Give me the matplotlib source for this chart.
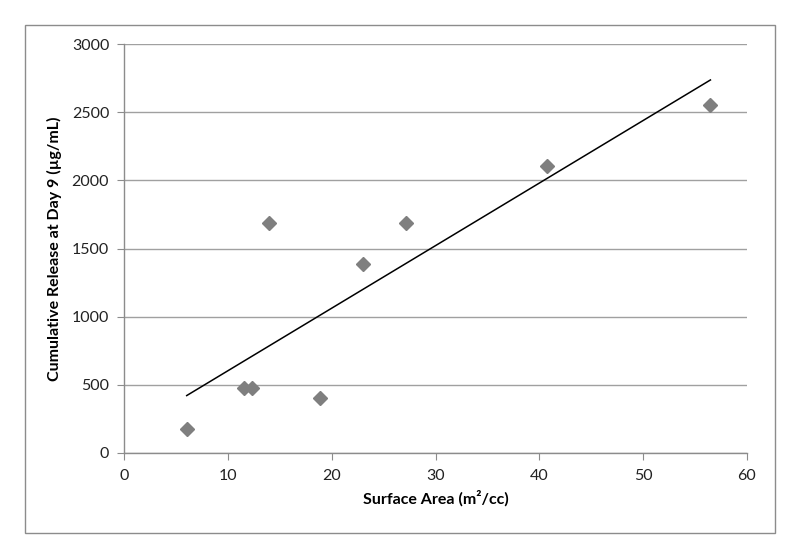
import numpy as np
import matplotlib.pyplot as plt
from matplotlib.patches import Rectangle

# values
surface_area = [6.0, 11.5, 12.3, 13.9, 18.9, 23.0, 27.1, 40.7, 56.5]
release_day9 = [172, 473, 473, 1685, 402, 1384, 1685, 2106, 2554]

x_ticks = [0, 10, 20, 30, 40, 50, 60]
y_ticks = [0, 500, 1000, 1500, 2000, 2500, 3000]

plt.rcParams['font.family'] = ['Lato', 'DejaVu Sans']

fig = plt.figure(figsize=(8, 5.59), dpi=100)
ax = fig.add_axes([0.1556, 0.1902, 0.7778, 0.7305])

# outer chart border
fig.patches.append(Rectangle((25 / 800, 1 - 533 / 559), 750 / 800, 508 / 559,
                             transform=fig.transFigure, fill=False,
                             edgecolor='#8c8c8c', linewidth=1.0))

ax.plot(surface_area, release_day9, linestyle='none', marker='D',
        markersize=6.8, color='#7f7f7f', zorder=3)

# linear trend line over the data range
slope, intercept = np.polyfit(surface_area, release_day9, 1)
xs = np.array([min(surface_area), max(surface_area)])
ax.plot(xs, slope * xs + intercept, color='black', linewidth=1.1, zorder=2)

ax.set_xlim(0, 60)
ax.set_ylim(0, 3000)
ax.set_xticks(x_ticks)
ax.set_yticks(y_ticks)
ax.yaxis.grid(True, color='#a0a0a0', linewidth=1.0)
ax.set_axisbelow(True)

for side in ['top', 'right']:
    ax.spines[side].set_visible(False)
for side in ['left', 'bottom']:
    ax.spines[side].set_color('#8c8c8c')
    ax.spines[side].set_linewidth(1.0)

ax.tick_params(axis='both', direction='out', length=5, color='#8c8c8c',
               labelsize=11.5, labelcolor='#222222')
ax.tick_params(axis='x', pad=7)
ax.tick_params(axis='y', pad=6)

ax.set_xlabel('Surface Area (m²/cc)', fontsize=11.5, fontweight='bold', labelpad=5)
ax.set_ylabel('Cumulative Release at Day 9 (µg/mL)', fontsize=11.5,
              fontweight='bold', labelpad=7)

fig.savefig('out.png', dpi=100)
